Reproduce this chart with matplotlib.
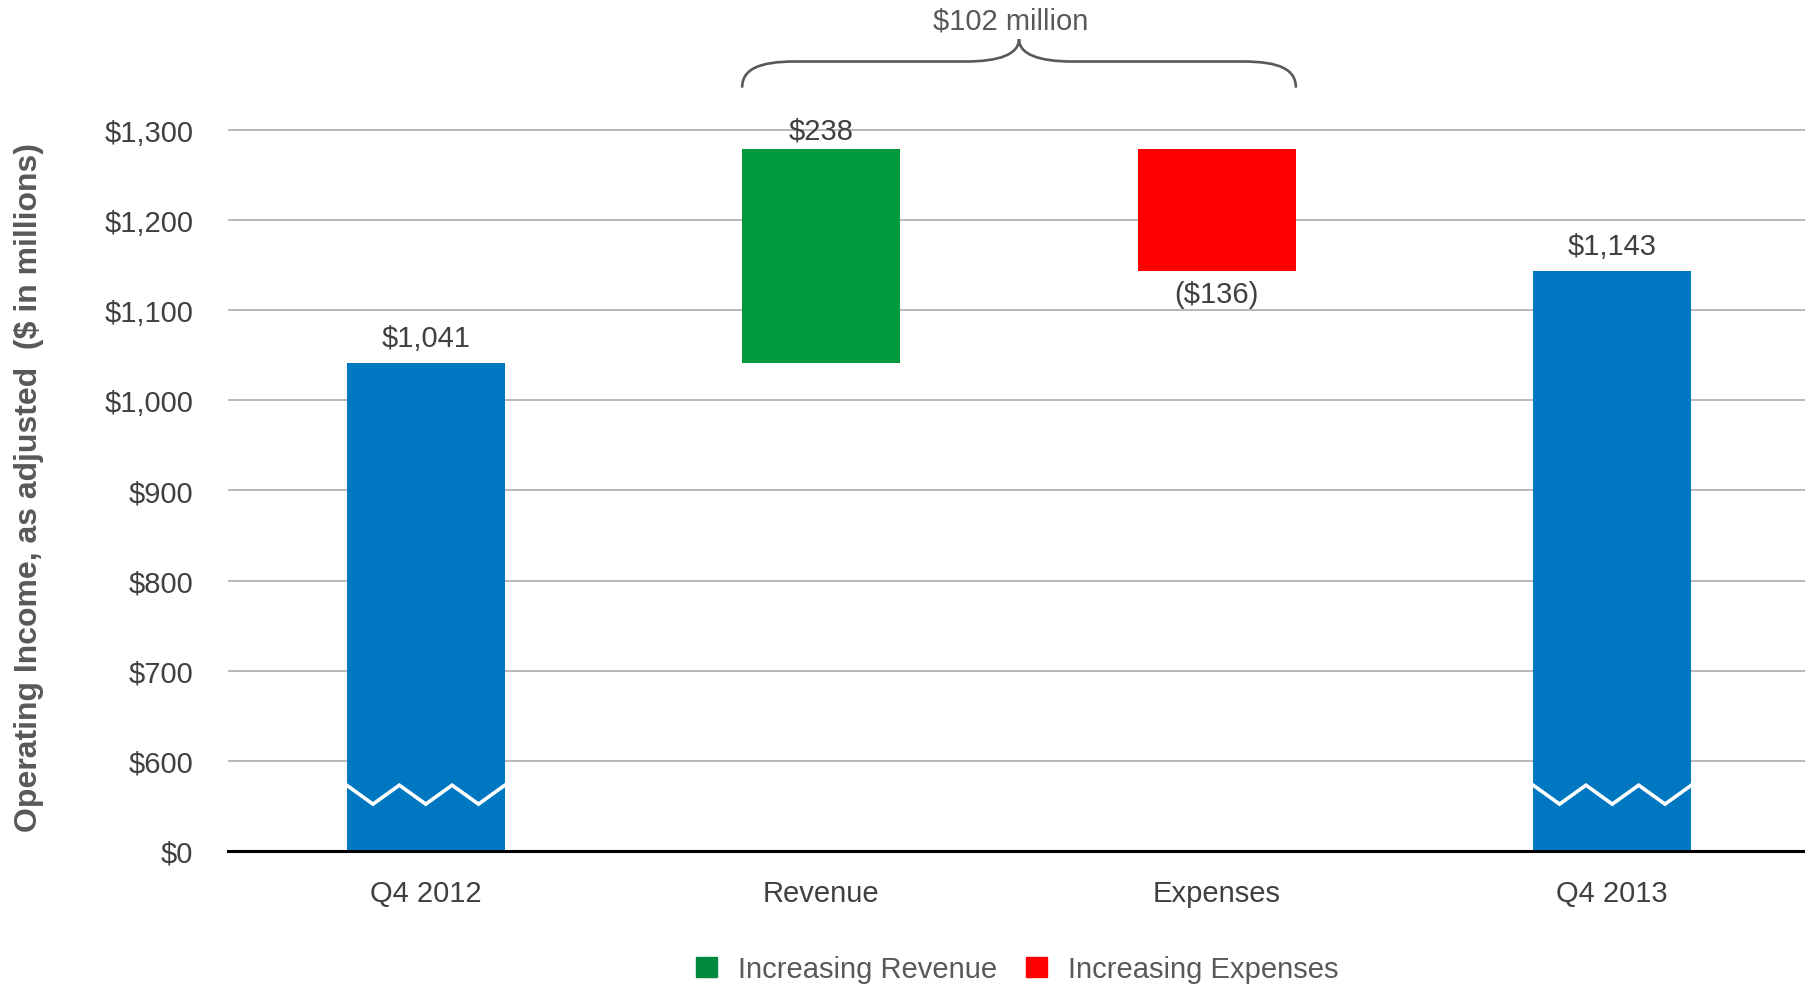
"""
Operating income bridge, Q4 2012 -> Q4 2013 (as adjusted, $ in millions).

Waterfall: the two quarter totals sit on a broken value axis (the floor
at $500 is labelled $0), and the revenue / expense movements float between
them. A brace over the movements carries the net change.
"""

import matplotlib
matplotlib.use("Agg")
import matplotlib.pyplot as plt
import numpy as np
from matplotlib.patches import Patch, PathPatch
from matplotlib.path import Path

plt.rcParams["font.family"] = ["Liberation Sans", "DejaVu Sans"]

CATEGORIES = ["Q4 2012", "Revenue", "Expenses", "Q4 2013"]
START_TOTAL = 1041
REVENUE_CHANGE = 238
EXPENSE_CHANGE = -136
END_TOTAL = 1143
NET_CHANGE_LABEL = "$102 million"

# broken axis: everything below the floor is cut away, floor reads as $0
AXIS_FLOOR = 500
TICK_VALUES = [500, 600, 700, 800, 900, 1000, 1100, 1200, 1300]
TICK_LABELS = ["$0", "$600", "$700", "$800", "$900", "$1,000",
               "$1,100", "$1,200", "$1,300"]

BLUE = "#0078C1"
GREEN = "#009A3D"
RED = "#FF0000"
LEGEND_GREEN = "#00893E"
TEXT = "#404040"
GREY_TEXT = "#595959"
GRID = "#A6A6A6"
BAR_WIDTH = 0.4
FS = 21


def _money(v):
    return f"${v:,.0f}" if v >= 0 else f"(${-v:,.0f})"


def _break_mark(ax, x, hi=573, lo=552):
    """White zig-zag across a total bar to show the cut axis."""
    xs = x - BAR_WIDTH / 2 + BAR_WIDTH * np.linspace(0, 1, 7)
    ys = [hi if i % 2 == 0 else lo for i in range(7)]
    ax.plot(xs, ys, color="white", lw=2.6, solid_joinstyle="miter", zorder=3)


def _brace(ax, x0, x1, y_tip, y_mid, y_peak):
    xm = (x0 + x1) / 2
    r = 0.135
    verts = [
        (x0, y_tip), (x0, y_tip + 20), (x0 + 0.04, y_mid), (x0 + r, y_mid),
        (xm - r, y_mid),
        (xm - 0.05, y_mid), (xm, y_mid + 8), (xm, y_peak),
        (xm, y_mid + 8), (xm + 0.05, y_mid), (xm + r, y_mid),
        (x1 - r, y_mid),
        (x1 - 0.04, y_mid), (x1, y_tip + 20), (x1, y_tip),
    ]
    codes = ([Path.MOVETO] + [Path.CURVE4] * 3 + [Path.LINETO]
             + [Path.CURVE4] * 6 + [Path.LINETO] + [Path.CURVE4] * 3)
    ax.add_patch(PathPatch(Path(verts, codes), fill=False, ec=GREY_TEXT,
                           lw=1.9, clip_on=False, zorder=4))
    return xm


def main():
    fig = plt.figure(figsize=(18.05, 9.87), dpi=100)
    # right edge runs a little past the canvas, as the gridlines do
    ax = fig.add_axes([0.1263, 0.1368, 0.8765, 0.767])

    x = np.arange(len(CATEGORIES))
    mid_top = START_TOTAL + REVENUE_CHANGE
    bottoms = [AXIS_FLOOR, START_TOTAL, mid_top + EXPENSE_CHANGE, AXIS_FLOOR]
    heights = [START_TOTAL - AXIS_FLOOR, REVENUE_CHANGE, -EXPENSE_CHANGE,
               END_TOTAL - AXIS_FLOOR]
    colors = [BLUE, GREEN, RED, BLUE]
    ax.bar(x, heights, bottom=bottoms, width=BAR_WIDTH, color=colors, zorder=2)

    for xi in (x[0], x[3]):
        _break_mark(ax, xi)

    # value labels: above for increases/totals, below for the expense drop
    above = [(x[0], START_TOTAL, START_TOTAL, 18),
             (x[1], mid_top, REVENUE_CHANGE, 13),
             (x[3], END_TOTAL, END_TOTAL, 18)]
    for xi, top, val, off in above:
        ax.annotate(_money(val), (xi, top), xytext=(0, off),
                    textcoords="offset points", ha="center", va="center",
                    fontsize=FS, color=TEXT, zorder=5)
    ax.annotate(_money(EXPENSE_CHANGE), (x[2], mid_top + EXPENSE_CHANGE),
                xytext=(0, -16), textcoords="offset points", ha="center",
                va="center", fontsize=FS, color=TEXT, zorder=5)

    xm = _brace(ax, x[1] - BAR_WIDTH / 2, x[2] + BAR_WIDTH / 2,
                1347, 1376, 1401)
    ax.text(xm - 0.02, 1421, NET_CHANGE_LABEL, ha="center", va="center",
            fontsize=FS, color=GREY_TEXT, clip_on=False)

    ax.set_xlim(-0.5, 3.5)
    ax.set_ylim(AXIS_FLOOR, 1340)
    ax.set_xticks(x)
    ax.set_xticklabels(CATEGORIES, fontsize=FS, color=TEXT)
    ax.set_yticks(TICK_VALUES)
    ax.set_yticklabels(TICK_LABELS, fontsize=FS, color=TEXT)
    ax.tick_params(axis="both", length=0)
    ax.tick_params(axis="y", pad=25)
    ax.tick_params(axis="x", pad=20)

    for v in TICK_VALUES[1:]:
        ax.axhline(v, color=GRID, lw=1.1, zorder=1)
    ax.axhline(AXIS_FLOOR, color="black", lw=2.2, zorder=4, clip_on=False)
    for s in ax.spines.values():
        s.set_visible(False)

    ax.set_ylabel("Operating Income, as adjusted  ($ in millions)",
                  fontsize=23, fontweight="bold", color=GREY_TEXT,
                  family=["Liberation Sans Narrow", "Liberation Sans"])
    ax.yaxis.set_label_coords(-0.1165, 0.482)

    handles = [Patch(color=LEGEND_GREEN, label="Increasing Revenue"),
               Patch(color=RED, label="Increasing Expenses")]
    fig.legend(handles=handles, loc="center", bbox_to_anchor=(0.5637, 0.017),
               ncol=2, frameon=False, fontsize=FS, labelcolor=GREY_TEXT,
               handlelength=0.72, handleheight=0.72, handletextpad=0.72,
               columnspacing=1.0)

    fig.savefig("out.png", dpi=100)
    plt.close(fig)


if __name__ == "__main__":
    main()
